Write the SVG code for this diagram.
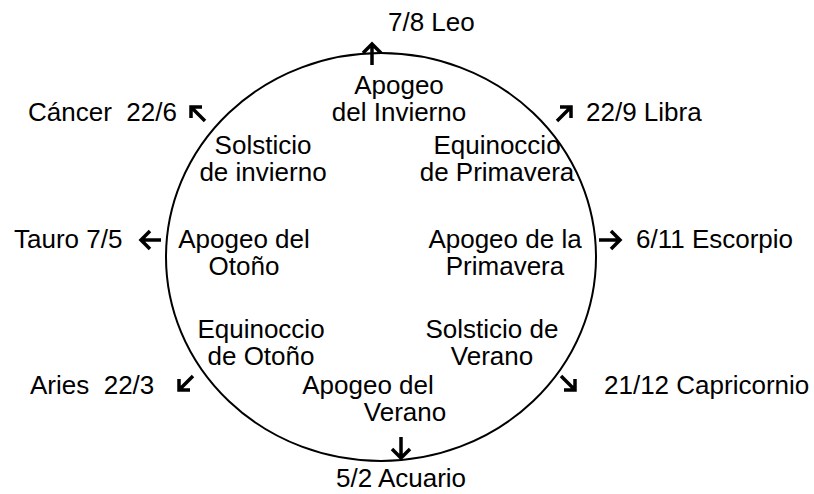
<svg xmlns="http://www.w3.org/2000/svg" width="814" height="494" viewBox="0 0 814 494">
<style>
text{font-family:"Liberation Sans",Arial,sans-serif;font-size:26px;fill:#000}
.c{text-anchor:middle}
.arr{fill:none;stroke:#000;stroke-width:3.5;stroke-linecap:butt;stroke-linejoin:miter}
</style>
<rect width="814" height="494" fill="#fff"/>
<ellipse id="circle" cx="381" cy="257" rx="215" ry="204" fill="none" stroke="#000" stroke-width="2"/>
<g id="connectors">
<path class="arr" d="M372 65V45M363 53L372 44L381 53"/>
<path class="arr" d="M205 121L191 107M191 118V107H202"/>
<path class="arr" d="M557 121L571 107M560 107H571V118"/>
<path class="arr" d="M161 240H141M150 231L141 240L150 249"/>
<path class="arr" d="M599 240H620M611 231L620 240L611 249"/>
<path class="arr" d="M193 376L179 390M179 379V390H190"/>
<path class="arr" d="M561 376L575 390M575 379V390H564"/>
<path class="arr" d="M401 437V458M392 449L401 458L410 449"/>
</g>
<g id="leo"><text x="388" y="31">7/8 Leo</text></g>
<g id="apogeo-invierno"><text class="c" x="399" y="94">Apogeo</text><text class="c" x="399" y="121">del Invierno</text></g>
<g id="cancer"><text x="28" y="121" xml:space="preserve">Cáncer  22/6</text></g>
<g id="libra"><text x="586" y="121">22/9 Libra</text></g>
<g id="solsticio-invierno"><text class="c" x="263" y="154">Solsticio</text><text class="c" x="263" y="181">de invierno</text></g>
<g id="equinoccio-primavera"><text class="c" x="497" y="154">Equinoccio</text><text class="c" x="497" y="181">de Primavera</text></g>
<g id="tauro"><text x="14" y="248">Tauro 7/5</text></g>
<g id="apogeo-otono"><text class="c" x="244" y="248">Apogeo del</text><text class="c" x="244" y="275">Otoño</text></g>
<g id="apogeo-primavera"><text class="c" x="505" y="248">Apogeo de la</text><text class="c" x="505" y="275">Primavera</text></g>
<g id="escorpio"><text x="636" y="248">6/11 Escorpio</text></g>
<g id="equinoccio-otono"><text class="c" x="261" y="338">Equinoccio</text><text class="c" x="261" y="365">de Otoño</text></g>
<g id="solsticio-verano"><text class="c" x="492" y="338">Solsticio de</text><text class="c" x="492" y="365">Verano</text></g>
<g id="aries"><text x="30" y="394" xml:space="preserve">Aries  22/3</text></g>
<g id="apogeo-verano"><text class="c" x="368" y="394">Apogeo del</text><text class="c" x="405" y="421">Verano</text></g>
<g id="capricornio"><text x="604" y="394">21/12 Capricornio</text></g>
<g id="acuario"><text class="c" x="401" y="487">5/2 Acuario</text></g>
</svg>
